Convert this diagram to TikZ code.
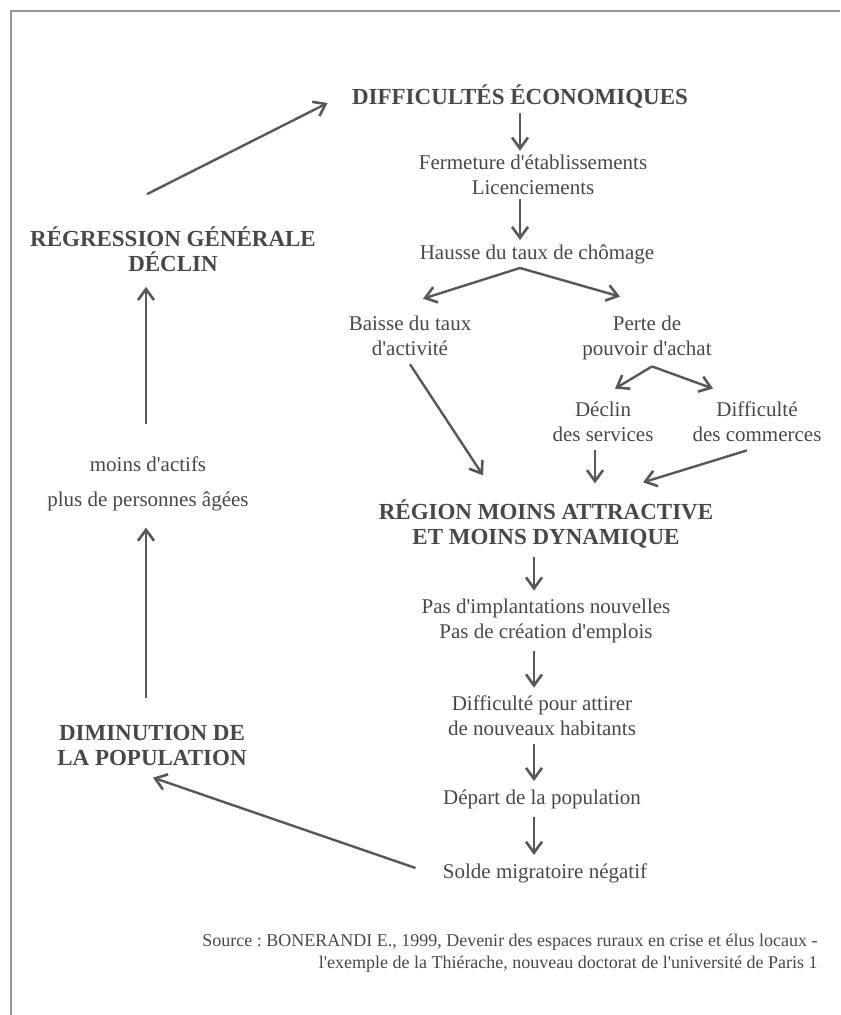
\documentclass[tikz,border=0pt]{standalone}
\usepackage{fontspec}
\setmainfont{Liberation Serif}
\usepackage{tikz}
\usetikzlibrary{arrows.meta}
\usepackage{xcolor}
\definecolor{scanink} {RGB}{72, 72, 72}
\definecolor{scanline}{RGB}{88, 88, 88}
\definecolor{scanframe}{RGB}{150,150,150}
\newcommand{\apo}{\textquotesingle}
\frenchspacing

\begin{document}
\begin{tikzpicture}[
  x=0.5pt,y=-0.5pt,
  every node/.style={text=scanink,inner sep=2pt},
  txt/.style={align=center,font=\fontsize{10.5}{12.5}\selectfont},
  head/.style={align=center,font=\fontsize{11.5}{12.5}\selectfont\bfseries},
  arr/.style={draw=scanline,line width=1.2pt,
              -{Straight Barb[length=5.5pt,width=8pt,line width=1.3pt]}},
  thin arr/.style={arr,line width=0.8pt},
]
\useasboundingbox (0,0) rectangle (840,1015);

%% frame (only top and left edges)
\draw[scanframe,line width=1pt] (10,11) -- (840,11);
\draw[scanframe,line width=1pt] (11,11) -- (11,1015);

%% right column
\node[head] (diff)    at (520,97)  {DIFFICULTÉS ÉCONOMIQUES};
\node[txt]  (ferm)    at (533,175) {Fermeture d\apo établissements\\Licenciements};
\node[txt]  (hausse)  at (537,254) {Hausse du taux de chômage};
\node[txt]  (baisse)  at (410,336) {Baisse du taux\\d\apo activité};
\node[txt]  (perte)   at (647,338) {Perte de\\pouvoir d\apo achat};
\node[txt]  (declin)  at (603,422) {Déclin\\des services};
\node[txt]  (difcom)  at (757,422) {Difficulté\\des commerces};
\node[head] (region)  at (546,524) {RÉGION MOINS ATTRACTIVE\\ET MOINS DYNAMIQUE};
\node[txt]  (pas)     at (546,621) {Pas d\apo implantations nouvelles\\Pas de création d\apo emplois};
\node[txt]  (diffatt) at (542,716) {Difficulté pour attirer\\de nouveaux habitants};
\node[txt]  (depart)  at (542,799) {Départ de la population};
\node[txt]  (solde)   at (545,873) {Solde migratoire négatif};

%% left column
\node[head] (regress) at (173,249) {RÉGRESSION GÉNÉRALE\\DÉCLIN};
\node[txt,font=\fontsize{10.5}{17.5}\selectfont]
            (moins)   at (148,484) {moins d\apo actifs\\plus de personnes âgées};
\node[head] (dimin)   at (152,745) {DIMINUTION DE\\LA POPULATION};

%% source
\node[align=right,anchor=east,font=\fontsize{9}{11}\selectfont]
            (source)  at (822,953)
  {Source : BONERANDI E., 1999, Devenir des espaces ruraux en crise et élus locaux -\\
   l\apo exemple de la Thiérache, nouveau doctorat de l\apo université de Paris 1};

%% connectors, main chain
\draw[arr] (diff.south) -- (diff.south |- ferm.north);
\draw[arr] (diff.south |- ferm.south) -- (diff.south |- hausse.north);
\draw[arr] (diff.south |- hausse.south) -- ([shift={(13,-13)}]baisse.north);
\draw[arr] (diff.south |- hausse.south) -- ([shift={(-27,-15)}]perte.north);
\draw[arr] ([shift={(5,2)}]perte.south) -- ([shift={(12,-9)}]declin.north);
\draw[arr] ([shift={(5,2)}]perte.south) -- ([shift={(-44,-9)}]difcom.north);
\draw[arr] ([shift={(0,4)}]baisse.south) -- ([shift={(-63,-20)}]region.north);
\draw[arr] ([shift={(-8,4)}]declin.south) -- ([shift={(49,-12)}]region.north);
\draw[arr] ([shift={(-10,4)}]difcom.south) -- ([shift={(97,-13)}]region.north);
\draw[arr] ([shift={(-12,4)}]region.south) -- ([shift={(-12,-4)}]pas.north);
\draw[arr] ([shift={(-12,4)}]pas.south) -- ([shift={(-8,-4)}]diffatt.north);
\draw[arr] ([shift={(-8,4)}]diffatt.south) -- ([shift={(-8,-4)}]depart.north);
\draw[arr] ([shift={(-8,4)}]depart.south) -- ([shift={(-11,-4)}]solde.north);

%% connectors, loop back on the left
\draw[arr] ([shift={(-23,-5)}]solde.west) -- ([shift={(1,8)}]dimin.south);
\draw[thin arr] ([shift={(-6,-22)}]dimin.north) -- ([shift={(-2,12)}]moins.south);
\draw[thin arr] ([shift={(-2,-28)}]moins.north) -- ([shift={(-27,11)}]regress.south);
\draw[arr] ([shift={(-26,-28)}]regress.north) -- ([shift={(-20,6)}]diff.west);

\end{tikzpicture}
\end{document}
